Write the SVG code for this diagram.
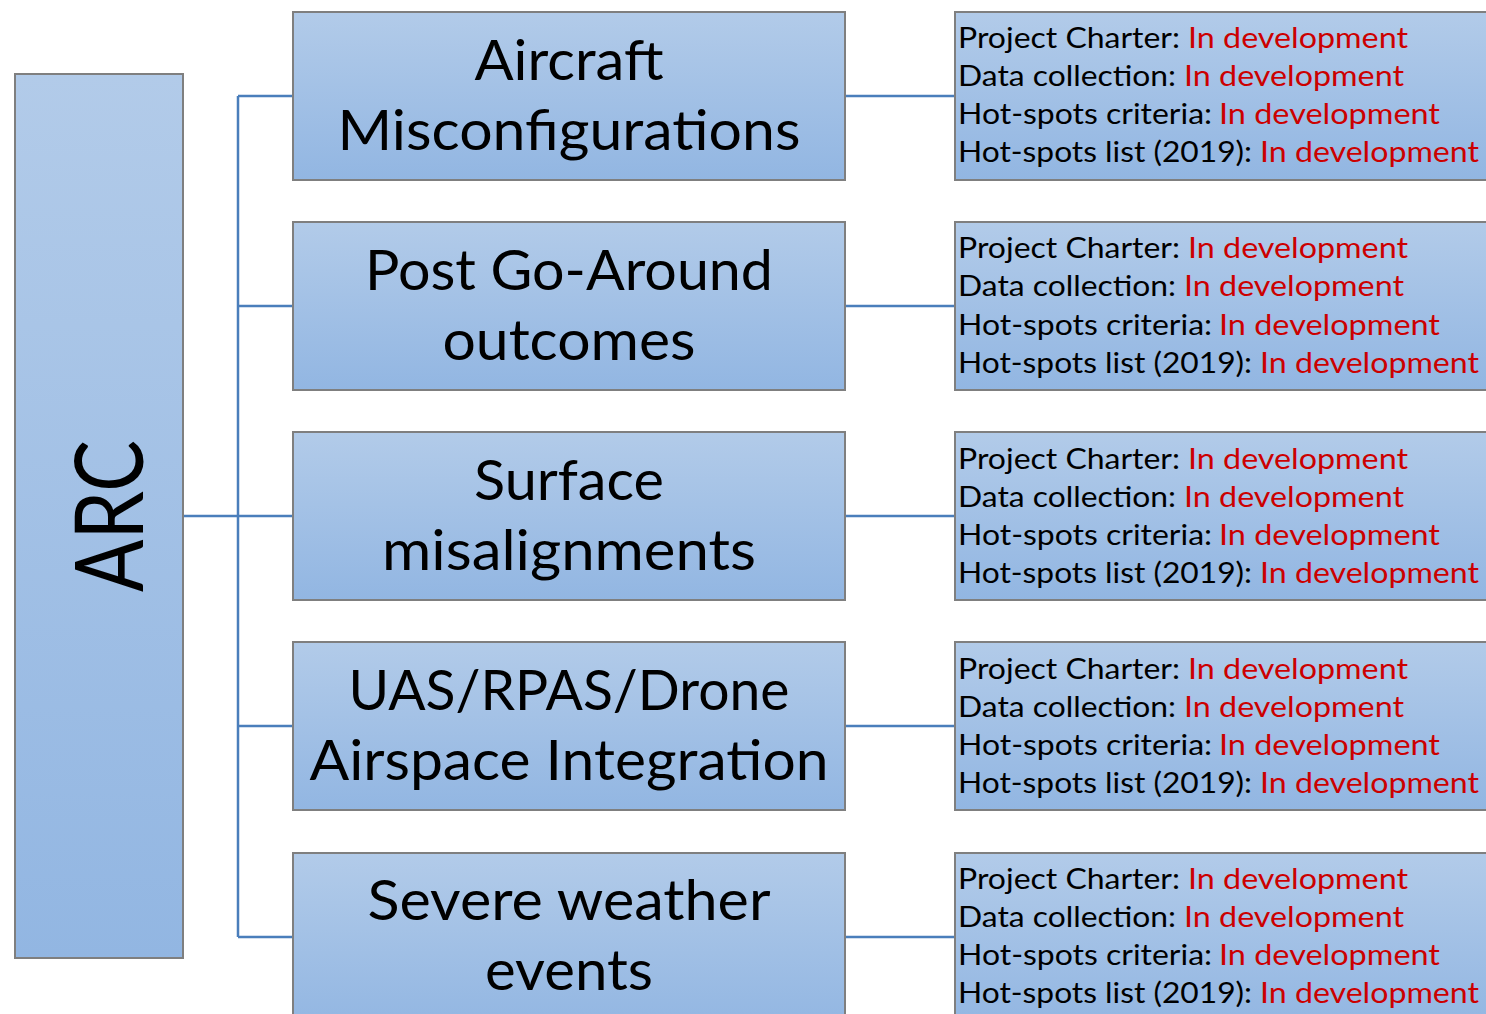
<svg xmlns="http://www.w3.org/2000/svg" width="1486" height="1014" viewBox="0 0 1486 1014">
<defs>
<linearGradient id="g" x1="0" y1="0" x2="0" y2="1">
<stop offset="0" stop-color="#b2cbe9"/>
<stop offset="1" stop-color="#92b6e2"/>
</linearGradient>
</defs>
<style>
.box{fill:url(#g);stroke:#7f7f7f;stroke-width:2}
.mid{font-family:Lato,"Open Sans",sans-serif;font-size:56px;fill:#000;text-anchor:middle}
.r{font-family:Lato,"Open Sans",sans-serif;font-size:29px;fill:#000}
.red{fill:#cc0000}
.c{fill:none;stroke:#4a7ebb;stroke-width:2.5}
</style>
<rect width="1486" height="1014" fill="#fff"/>
<g id="connectors">
<path class="c" d="M183 516H238M238 96V937M238 96H293M238 306H293M238 516H293M238 726H293M238 937H293"/>
<path class="c" d="M845 96H955M845 306H955M845 516H955M845 726H955M845 937H955"/>
</g>
<g id="arc">
<rect class="box" x="15" y="74" width="168" height="884"/>
<text transform="translate(143,516) rotate(-90)" x="0" y="0" text-anchor="middle" font-family="Lato,'Open Sans',sans-serif" font-size="95" textLength="152" lengthAdjust="spacingAndGlyphs">ARC</text>
</g>
<g id="n1">
<rect class="box" x="293" y="12" width="552" height="168"/>
<text class="mid" x="569" y="80" textLength="189" lengthAdjust="spacingAndGlyphs">Aircraft</text>
<text class="mid" x="569" y="150" textLength="463" lengthAdjust="spacingAndGlyphs">Misconfigurations</text>
</g>
<g id="n2">
<rect class="box" x="293" y="222" width="552" height="168"/>
<text class="mid" x="569" y="290" textLength="408" lengthAdjust="spacingAndGlyphs">Post Go-Around</text>
<text class="mid" x="569" y="360" textLength="253" lengthAdjust="spacingAndGlyphs">outcomes</text>
</g>
<g id="n3">
<rect class="box" x="293" y="432" width="552" height="168"/>
<text class="mid" x="569" y="500" textLength="190" lengthAdjust="spacingAndGlyphs">Surface</text>
<text class="mid" x="569" y="570" textLength="374" lengthAdjust="spacingAndGlyphs">misalignments</text>
</g>
<g id="n4">
<rect class="box" x="293" y="642" width="552" height="168"/>
<text class="mid" x="569" y="710" textLength="441" lengthAdjust="spacingAndGlyphs">UAS/RPAS/Drone</text>
<text class="mid" x="569" y="780" textLength="519" lengthAdjust="spacingAndGlyphs">Airspace Integration</text>
</g>
<g id="n5">
<rect class="box" x="293" y="853" width="552" height="175"/>
<text class="mid" x="569" y="920" textLength="403" lengthAdjust="spacingAndGlyphs">Severe weather</text>
<text class="mid" x="569" y="990" textLength="168" lengthAdjust="spacingAndGlyphs">events</text>
</g>
<g id="s1">
<rect class="box" x="955" y="12" width="540" height="168"/>
<text class="r" x="958" y="48" textLength="222" lengthAdjust="spacingAndGlyphs">Project Charter:</text><text class="r red" x="1188" y="48" textLength="220" lengthAdjust="spacingAndGlyphs">In development</text>
<text class="r" x="958" y="86" textLength="218" lengthAdjust="spacingAndGlyphs">Data collection:</text><text class="r red" x="1184" y="86" textLength="220" lengthAdjust="spacingAndGlyphs">In development</text>
<text class="r" x="958" y="124" textLength="254" lengthAdjust="spacingAndGlyphs">Hot-spots criteria:</text><text class="r red" x="1219" y="124" textLength="221" lengthAdjust="spacingAndGlyphs">In development</text>
<text class="r" x="958" y="162" textLength="294" lengthAdjust="spacingAndGlyphs">Hot-spots list (2019):</text><text class="r red" x="1260" y="162" textLength="219" lengthAdjust="spacingAndGlyphs">In development</text>
</g>
<g id="s2">
<rect class="box" x="955" y="222" width="540" height="168"/>
<text class="r" x="958" y="258" textLength="222" lengthAdjust="spacingAndGlyphs">Project Charter:</text><text class="r red" x="1188" y="258" textLength="220" lengthAdjust="spacingAndGlyphs">In development</text>
<text class="r" x="958" y="296" textLength="218" lengthAdjust="spacingAndGlyphs">Data collection:</text><text class="r red" x="1184" y="296" textLength="220" lengthAdjust="spacingAndGlyphs">In development</text>
<text class="r" x="958" y="335" textLength="254" lengthAdjust="spacingAndGlyphs">Hot-spots criteria:</text><text class="r red" x="1219" y="335" textLength="221" lengthAdjust="spacingAndGlyphs">In development</text>
<text class="r" x="958" y="373" textLength="294" lengthAdjust="spacingAndGlyphs">Hot-spots list (2019):</text><text class="r red" x="1260" y="373" textLength="219" lengthAdjust="spacingAndGlyphs">In development</text>
</g>
<g id="s3">
<rect class="box" x="955" y="432" width="540" height="168"/>
<text class="r" x="958" y="469" textLength="222" lengthAdjust="spacingAndGlyphs">Project Charter:</text><text class="r red" x="1188" y="469" textLength="220" lengthAdjust="spacingAndGlyphs">In development</text>
<text class="r" x="958" y="507" textLength="218" lengthAdjust="spacingAndGlyphs">Data collection:</text><text class="r red" x="1184" y="507" textLength="220" lengthAdjust="spacingAndGlyphs">In development</text>
<text class="r" x="958" y="545" textLength="254" lengthAdjust="spacingAndGlyphs">Hot-spots criteria:</text><text class="r red" x="1219" y="545" textLength="221" lengthAdjust="spacingAndGlyphs">In development</text>
<text class="r" x="958" y="583" textLength="294" lengthAdjust="spacingAndGlyphs">Hot-spots list (2019):</text><text class="r red" x="1260" y="583" textLength="219" lengthAdjust="spacingAndGlyphs">In development</text>
</g>
<g id="s4">
<rect class="box" x="955" y="642" width="540" height="168"/>
<text class="r" x="958" y="679" textLength="222" lengthAdjust="spacingAndGlyphs">Project Charter:</text><text class="r red" x="1188" y="679" textLength="220" lengthAdjust="spacingAndGlyphs">In development</text>
<text class="r" x="958" y="717" textLength="218" lengthAdjust="spacingAndGlyphs">Data collection:</text><text class="r red" x="1184" y="717" textLength="220" lengthAdjust="spacingAndGlyphs">In development</text>
<text class="r" x="958" y="755" textLength="254" lengthAdjust="spacingAndGlyphs">Hot-spots criteria:</text><text class="r red" x="1219" y="755" textLength="221" lengthAdjust="spacingAndGlyphs">In development</text>
<text class="r" x="958" y="793" textLength="294" lengthAdjust="spacingAndGlyphs">Hot-spots list (2019):</text><text class="r red" x="1260" y="793" textLength="219" lengthAdjust="spacingAndGlyphs">In development</text>
</g>
<g id="s5">
<rect class="box" x="955" y="853" width="540" height="175"/>
<text class="r" x="958" y="889" textLength="222" lengthAdjust="spacingAndGlyphs">Project Charter:</text><text class="r red" x="1188" y="889" textLength="220" lengthAdjust="spacingAndGlyphs">In development</text>
<text class="r" x="958" y="927" textLength="218" lengthAdjust="spacingAndGlyphs">Data collection:</text><text class="r red" x="1184" y="927" textLength="220" lengthAdjust="spacingAndGlyphs">In development</text>
<text class="r" x="958" y="965" textLength="254" lengthAdjust="spacingAndGlyphs">Hot-spots criteria:</text><text class="r red" x="1219" y="965" textLength="221" lengthAdjust="spacingAndGlyphs">In development</text>
<text class="r" x="958" y="1003" textLength="294" lengthAdjust="spacingAndGlyphs">Hot-spots list (2019):</text><text class="r red" x="1260" y="1003" textLength="219" lengthAdjust="spacingAndGlyphs">In development</text>
</g>
</svg>
